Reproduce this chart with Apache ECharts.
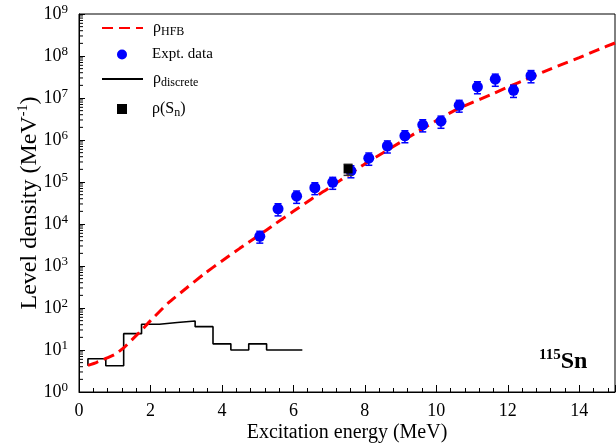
<!DOCTYPE html>
<html>
<head>
<meta charset="utf-8">
<script src="https://cdn.jsdelivr.net/npm/echarts@6/dist/echarts.min.js"></script>
<style>
html, body { margin: 0; padding: 0; background: #fff; }
#chart { width: 616px; height: 447px; }
</style>
</head>
<body>
<div id="chart"></div>
<script>
// HFB level density (MeV, MeV^-1)
var hfbE = [0.25, 0.5, 0.75, 1.0, 1.25, 1.5, 1.75, 2.0, 2.5, 3.0, 3.5, 4.0, 4.5, 5.0, 5.5, 6.0, 6.5, 7.0, 7.5,
            8.0, 8.5, 9.0, 9.5, 10.0, 10.5, 11.0, 11.5, 12.0, 12.5, 13.0, 13.5, 14.0, 14.5, 15.0];
var hfbRho = [4.3, 5.1, 6.3, 7.8, 11.2, 18.2, 29.5, 50, 132, 295, 646, 1320, 2630, 5130, 1.02e4, 2.0e4, 3.9e4, 7.2e4, 1.41e5,
              2.7e5, 4.9e5, 8.9e5, 1.62e6, 2.9e6, 5.0e6, 7.8e6, 1.17e7, 1.82e7, 2.75e7, 4.2e7, 6.2e7, 9.1e7, 1.38e8, 2.04e8];

// experimental data
var exptE = [5.06, 5.57, 6.09, 6.60, 7.10, 7.61, 8.11, 8.63, 9.12, 9.62, 10.13, 10.64, 11.15, 11.65, 12.16, 12.65];
var exptRho = [5.1e3, 2.3e4, 4.6e4, 7.3e4, 9.8e4, 1.85e5, 3.7e5, 7.2e5, 1.26e6, 2.3e6, 2.8e6, 6.7e6, 1.85e7, 2.8e7, 1.52e7, 3.4e7];
var exptErr = [1.6e3, 7.4e3, 1.5e4, 2.3e4, 3.1e4, 5.9e4, 1.2e5, 2.3e5, 4.0e5, 7.4e5, 9.0e5, 2.1e6, 5.9e6, 9.0e6, 4.9e6, 1.1e7];

// discrete levels histogram
var discLeft  = [0.25, 0.75, 1.25, 1.75, 2.25, 2.75, 3.25, 3.75, 4.25, 4.75, 5.25];
var discRight = [0.75, 1.25, 1.75, 2.25, 2.75, 3.25, 3.75, 4.25, 4.75, 5.25, 6.25];
var discRho   = [6.2, 4.2, 24.5, 41, 45, 49, 36, 14, 10, 14, 10];
var discStart = 4.2;

// rho(Sn)
var snE = [7.53];
var snRho = [2.04e5];
var snErr = [6e4];

var xTicks = [0, 2, 4, 6, 8, 10, 12, 14];
var yDecades = [0, 1, 2, 3, 4, 5, 6, 7, 8];

var serif = 'Liberation Serif';

function pairs(xs, ys) {
    return xs.map(function (x, i) { return [x, ys[i]]; });
}
function errData(xs, ys, es) {
    return xs.map(function (x, i) { return [x, ys[i] - es[i], ys[i] + es[i]]; });
}
function stepData() {
    var pts = [[discLeft[0], discStart]];
    discRho.forEach(function (v, i) {
        pts.push([discLeft[i], v]);
        pts.push([discRight[i], v]);
    });
    return pts;
}
// y轴 log 次刻度 2..9
function minorTickValues() {
    var vals = [];
    yDecades.forEach(function (d) {
        for (var k = 2; k <= 9; k++) vals.push([1, k * Math.pow(10, d)]);
    });
    return vals;
}
// 误差棒
function errBar(color, cap, width) {
    return function (params, api) {
        var x = api.value(0);
        var p1 = api.coord([x, api.value(1)]);
        var p2 = api.coord([x, api.value(2)]);
        var st = { stroke: color, lineWidth: width };
        return {
            type: 'group',
            children: [
                { type: 'line', shape: { x1: p1[0], y1: p1[1], x2: p2[0], y2: p2[1] }, style: st },
                { type: 'line', shape: { x1: p1[0] - cap, y1: p1[1], x2: p1[0] + cap, y2: p1[1] }, style: st },
                { type: 'line', shape: { x1: p2[0] - cap, y1: p2[1], x2: p2[0] + cap, y2: p2[1] }, style: st }
            ]
        };
    };
}

var legendText = {
    hfb: '{r|ρ}{s|HFB}',
    expt: '{e|Expt. data}',
    disc: '{r|ρ}{s|discrete}',
    sn: '{r|ρ(S}{s|n}{r|)}'
};
var legendRich = {
    r: { fontFamily: serif, fontSize: 16, lineHeight: 20, color: '#000' },
    e: { fontFamily: serif, fontSize: 15, lineHeight: 20, color: '#000' },
    s: { fontFamily: serif, fontSize: 12, lineHeight: 8, verticalAlign: 'bottom', color: '#000' }
};
var legendCfg = [
    { name: 'hfb', left: 96, top: 15, w: 41, pad: 5 },
    { name: 'expt', left: 112, top: 42, w: 10, pad: 20 },
    { name: 'disc', left: 96, top: 66, w: 41, pad: 5 },
    { name: 'sn', left: 112, top: 96, w: 10, pad: 20 }
];

var myChart = echarts.init(document.getElementById('chart'));
var option = {
    backgroundColor: '#fff',
    animation: false,
    grid: {
        left: 79, right: 1, top: 14, bottom: 55,
        outerBoundsMode: 'none', containLabel: false,
        show: true, borderColor: '#000', borderWidth: 1
    },
    legend: legendCfg.map(function (c) {
        return {
            data: [c.name],
            left: c.left,
            top: c.top,
            itemWidth: c.w,
            itemHeight: 10,
            selectedMode: false,
            itemStyle: (c.w > 20) ? { opacity: 0 } : {},
            formatter: function (name) { return legendText[name]; },
            textStyle: { padding: [0, 0, 0, c.pad], rich: legendRich }
        };
    }),
    xAxis: {
        type: 'value',
        min: 0, max: 15, interval: 2,
        name: 'Excitation energy (MeV)',
        nameLocation: 'middle',
        nameGap: 31,
        nameMoveOverlap: false,
        nameTextStyle: { fontFamily: serif, fontSize: 20, color: '#000' },
        axisLine: { show: true, onZero: false, lineStyle: { color: '#000', width: 1 } },
        axisTick: { show: true, inside: true, length: 7, lineStyle: { color: '#000', width: 1 } },
        minorTick: { show: true, splitNumber: 5, length: 4, lineStyle: { color: '#000', width: 1 } },
        axisLabel: {
            fontFamily: serif, fontSize: 18, color: '#000', margin: 10,
            formatter: function (v) { return xTicks.indexOf(v) >= 0 ? String(v) : ''; }
        },
        splitLine: { show: false }
    },
    yAxis: {
        type: 'log',
        logBase: 10,
        min: 1, max: 1e9, interval: 1,
        name: '{t|Level density (MeV}{p|-1}{t|)}',
        nameLocation: 'middle',
        nameGap: 35,
        nameMoveOverlap: false,
        nameRotate: 90,
        nameTextStyle: {
            rich: {
                t: { fontFamily: serif, fontSize: 24, lineHeight: 28, color: '#000' },
                p: { fontFamily: serif, fontSize: 14, lineHeight: 12, verticalAlign: 'top', color: '#000' }
            }
        },
        axisLine: { show: true, onZero: false, lineStyle: { color: '#000', width: 1 } },
        axisTick: { show: true, inside: true, length: 6, lineStyle: { color: '#000', width: 1 } },
        minorTick: { show: false },
        axisLabel: {
            margin: 11,
            formatter: function (v) {
                return '{b|10}{s|' + Math.round(Math.log10(v)) + '}';
            },
            rich: {
                b: { fontFamily: serif, fontSize: 18, lineHeight: 22, color: '#000' },
                s: { fontFamily: serif, fontSize: 13, lineHeight: 10, verticalAlign: 'top', color: '#000' }
            }
        },
        splitLine: { show: false }
    },
    graphic: [{
        type: 'text',
        left: 539,
        top: 348,
        style: {
            text: '{a|115}{b|Sn}',
            rich: {
                a: { fontFamily: serif, fontWeight: 'bold', fontSize: 15, lineHeight: 12, verticalAlign: 'top', fill: '#000' },
                b: { fontFamily: serif, fontWeight: 'bold', fontSize: 24, lineHeight: 28, fill: '#000' }
            }
        }
    }],
    series: [
        {
            name: 'yMinor', type: 'custom', silent: true,
            renderItem: function (params, api) {
                var y = api.coord([api.value(0), api.value(1)])[1];
                var x0 = params.coordSys.x;
                return {
                    type: 'group',
                    children: [
                        { type: 'line', shape: { x1: x0, y1: y, x2: x0 + 4, y2: y },
                          style: { stroke: '#000', lineWidth: 1 } }
                    ]
                };
            },
            data: minorTickValues(),
            z: 10
        },
        {
            name: 'disc', type: 'line', symbol: 'none',
            data: stepData(),
            lineStyle: { color: '#000', width: 1.6 },
            itemStyle: { color: '#000' },
            z: 2
        },
        {
            name: 'hfb', type: 'line', symbol: 'none', smooth: 0.2,
            data: pairs(hfbE, hfbRho),
            lineStyle: { color: '#ff0000', width: 3, type: [11, 6] },
            itemStyle: { color: '#ff0000' },
            z: 3
        },
        {
            name: 'exptErr', type: 'custom',
            renderItem: errBar('#0000ff', 3.5, 1.5),
            data: errData(exptE, exptRho, exptErr),
            z: 4
        },
        {
            name: 'expt', type: 'scatter', symbol: 'circle', symbolSize: 11,
            data: pairs(exptE, exptRho),
            itemStyle: { color: '#0000ff', opacity: 1 },
            z: 5
        },
        {
            name: 'snErr', type: 'custom',
            renderItem: errBar('#333', 4.5, 1.5),
            data: errData(snE, snRho, snErr),
            z: 6
        },
        {
            name: 'sn', type: 'scatter', symbol: 'rect', symbolSize: 9,
            data: pairs(snE, snRho),
            itemStyle: { color: '#000', opacity: 1 },
            z: 7
        }
    ]
};
myChart.setOption(option);
</script>
</body>
</html>
